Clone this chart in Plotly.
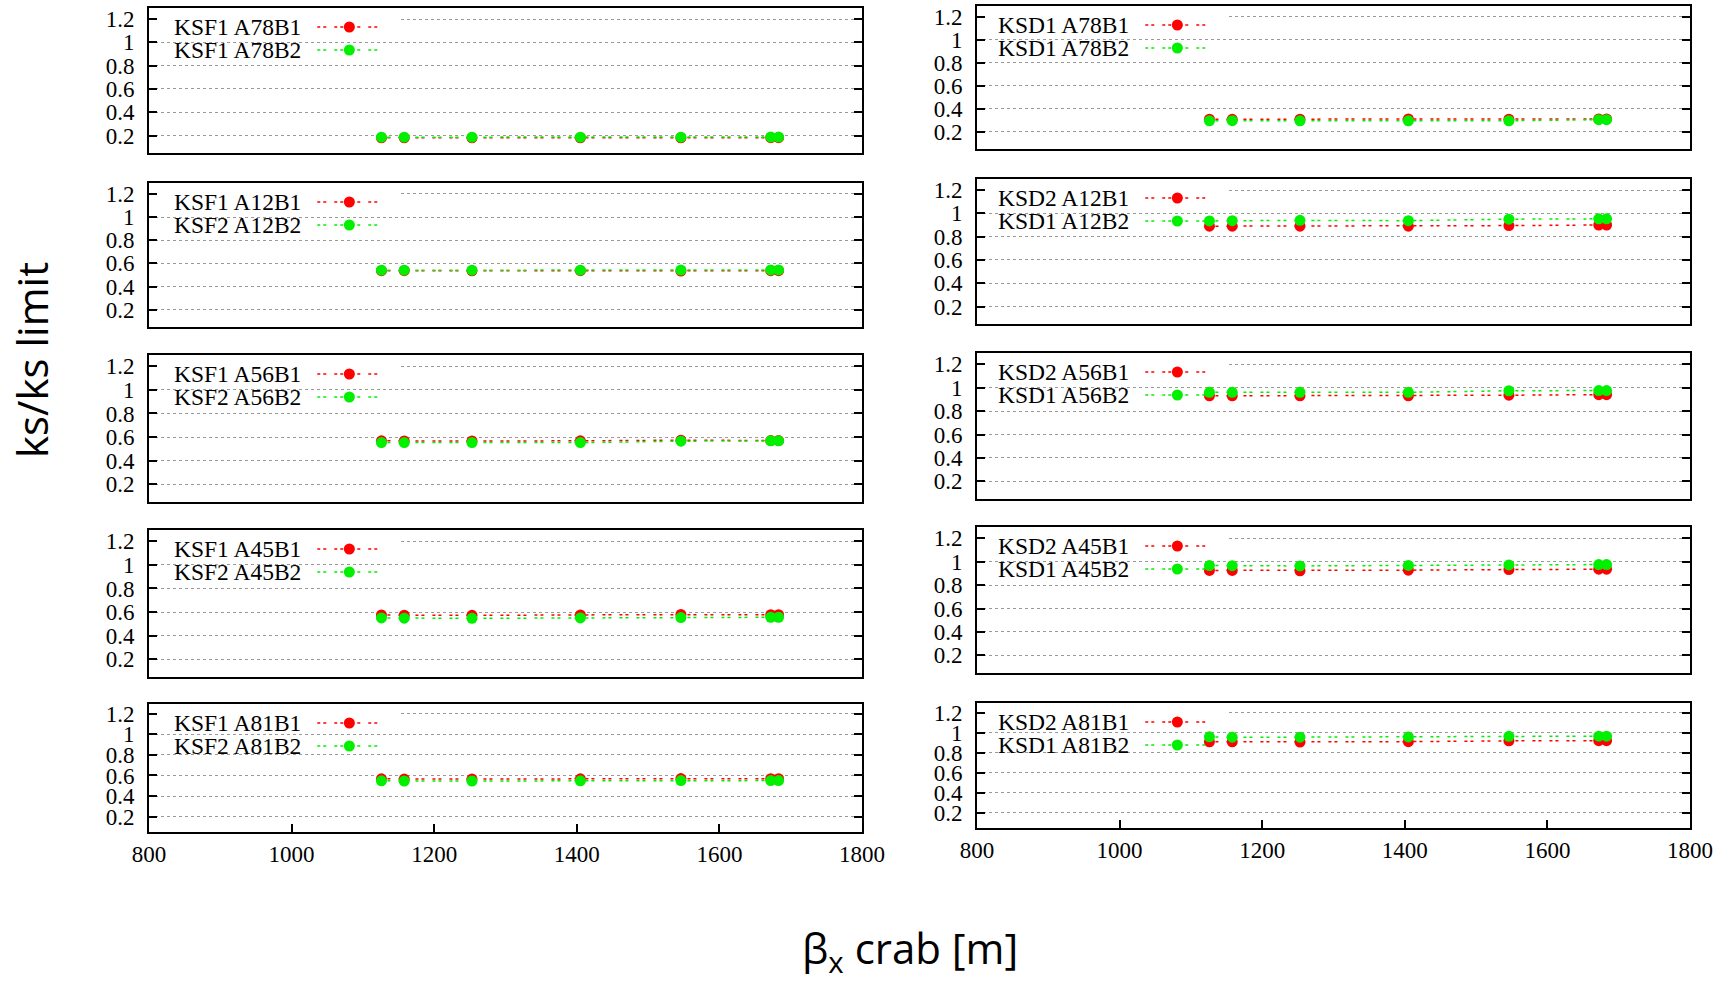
import plotly.graph_objects as go

# ---------------- data ----------------
beta_x = [1126, 1158, 1253, 1405, 1546, 1672, 1683]

labels_b1 = ["KSF1 A78B1", "KSF1 A12B1", "KSF1 A56B1", "KSF1 A45B1", "KSF1 A81B1",
             "KSD1 A78B1", "KSD2 A12B1", "KSD2 A56B1", "KSD2 A45B1", "KSD2 A81B1"]
labels_b2 = ["KSF1 A78B2", "KSF2 A12B2", "KSF2 A56B2", "KSF2 A45B2", "KSF2 A81B2",
             "KSD1 A78B2", "KSD1 A12B2", "KSD1 A56B2", "KSD1 A45B2", "KSD1 A81B2"]

ksf_a78_b1 = [0.180, 0.180, 0.180, 0.181, 0.181, 0.182, 0.182]
ksf_a78_b2 = [0.186, 0.186, 0.186, 0.186, 0.186, 0.187, 0.187]
ksf_a12_b1 = [0.537, 0.537, 0.536, 0.537, 0.534, 0.537, 0.537]
ksf_a12_b2 = [0.541, 0.541, 0.541, 0.541, 0.542, 0.543, 0.543]
ksf_a56_b1 = [0.568, 0.567, 0.567, 0.568, 0.574, 0.570, 0.570]
ksf_a56_b2 = [0.553, 0.553, 0.553, 0.553, 0.565, 0.568, 0.568]
ksf_a45_b1 = [0.575, 0.574, 0.572, 0.576, 0.580, 0.578, 0.578]
ksf_a45_b2 = [0.550, 0.548, 0.547, 0.550, 0.553, 0.556, 0.556]
ksf_a81_b1 = [0.567, 0.565, 0.565, 0.567, 0.570, 0.568, 0.568]
ksf_a81_b2 = [0.548, 0.546, 0.546, 0.548, 0.550, 0.550, 0.550]

ksd_a78_b1 = [0.310, 0.308, 0.310, 0.312, 0.310, 0.312, 0.312]
ksd_a78_b2 = [0.295, 0.297, 0.295, 0.295, 0.296, 0.305, 0.305]
ksd_a12_b1 = [0.890, 0.890, 0.890, 0.890, 0.895, 0.900, 0.900]
ksd_a12_b2 = [0.935, 0.937, 0.940, 0.937, 0.950, 0.953, 0.953]
ksd_a56_b1 = [0.930, 0.930, 0.930, 0.930, 0.935, 0.940, 0.940]
ksd_a56_b2 = [0.960, 0.960, 0.960, 0.960, 0.973, 0.975, 0.975]
ksd_a45_b1 = [0.925, 0.925, 0.922, 0.927, 0.932, 0.935, 0.935]
ksd_a45_b2 = [0.966, 0.965, 0.963, 0.967, 0.972, 0.975, 0.975]
ksd_a81_b1 = [0.908, 0.908, 0.906, 0.910, 0.918, 0.920, 0.920]
ksd_a81_b2 = [0.958, 0.955, 0.955, 0.957, 0.963, 0.965, 0.965]

series_b1 = [ksf_a78_b1, ksf_a12_b1, ksf_a56_b1, ksf_a45_b1, ksf_a81_b1,
             ksd_a78_b1, ksd_a12_b1, ksd_a56_b1, ksd_a45_b1, ksd_a81_b1]
series_b2 = [ksf_a78_b2, ksf_a12_b2, ksf_a56_b2, ksf_a45_b2, ksf_a81_b2,
             ksd_a78_b2, ksd_a12_b2, ksd_a56_b2, ksd_a45_b2, ksd_a81_b2]

y_tickvals = [0.2, 0.4, 0.6, 0.8, 1.0, 1.2]
y_ticktext = ["0.2", "0.4", "0.6", "0.8", "1", "1.2"]
x_tickvals = [800, 1000, 1200, 1400, 1600, 1800]
x_ticktext = ["800", "1000", "1200", "1400", "1600", "1800"]

# ---------------- layout geometry (pixels) ----------------
W, H = 1733, 983
X_RANGE = [800, 1800]
Y_RANGE = [0.05, 1.295]
col_x = [(149, 862), (977, 1690)]
rows_px = [
    [(8, 153), (183, 327), (355, 502), (530, 677), (704, 832)],
    [(6, 149), (179, 324), (353, 499), (527, 673), (703, 828)],
]

RED = "#ff0000"
GREEN = "#00f000"
DASH = "3px,3px,3px,8px"
SERIF = "Liberation Serif, Times New Roman, serif"
SANS = "Open Sans, sans-serif"


def xdom(f):
    return X_RANGE[0] + f * (X_RANGE[1] - X_RANGE[0])


def ydata_from_top(px, hpx):
    return Y_RANGE[1] - px / hpx * (Y_RANGE[1] - Y_RANGE[0])


fig = go.Figure()
layout = dict(
    width=W, height=H, margin=dict(l=0, r=0, t=0, b=0, pad=0, autoexpand=False),
    paper_bgcolor="white", plot_bgcolor="white", showlegend=False,
)
shapes = []
annotations = []

for i in range(10):
    col = i // 5
    row = i % 5
    n = i + 1
    xa = "xaxis" if n == 1 else f"xaxis{n}"
    ya = "yaxis" if n == 1 else f"yaxis{n}"
    xr = "x" if n == 1 else f"x{n}"
    yr = "y" if n == 1 else f"y{n}"
    x0, x1 = col_x[col]
    top, bot = rows_px[col][row]
    hpx = bot - top
    bottom_row = row == 4

    layout[xa] = dict(
        domain=[x0 / W, x1 / W], anchor=yr, range=X_RANGE, automargin=False,
        showgrid=False, zeroline=False, showline=True, linecolor="black",
        linewidth=2, mirror=True,
        tickvals=x_tickvals, ticktext=x_ticktext,
        ticks="inside" if bottom_row else "", ticklen=8, tickwidth=1.5,
        tickcolor="black", showticklabels=bottom_row,
        tickfont=dict(family=SERIF, size=23, color="black"),
    )
    layout[ya] = dict(
        domain=[1 - bot / H, 1 - top / H], anchor=xr, range=Y_RANGE, automargin=False,
        showgrid=True, gridcolor="#9a9a9a", griddash="dot", gridwidth=1,
        zeroline=False, showline=True, linecolor="black", linewidth=2,
        mirror="allticks", ticks="inside", ticklen=8, tickwidth=1.5,
        tickcolor="black", tickvals=y_tickvals, ticktext=y_ticktext,
        tickfont=dict(family=SERIF, size=23, color="black"),
        ticklabelstandoff=8,
    )

    fig.add_trace(go.Scatter(
        x=beta_x, y=series_b1[i], xaxis=xr, yaxis=yr, mode="lines+markers",
        line=dict(color=RED, width=1.5, dash=DASH),
        marker=dict(color=RED, size=11), name=labels_b1[i]))
    fig.add_trace(go.Scatter(
        x=beta_x, y=series_b2[i], xaxis=xr, yaxis=yr, mode="lines+markers",
        line=dict(color=GREEN, width=1.5, dash=DASH),
        marker=dict(color=GREEN, size=11), name=labels_b2[i]))

    # opaque key box (covers the top gridline under the key, as in the original)
    shapes.append(dict(type="rect", xref=xr, yref=yr,
                       x0=xdom(0.004), x1=xdom(0.350), y0=1.1, y1=Y_RANGE[1],
                       fillcolor="white", line=dict(width=0), layer="between"))

    # custom key entries: text on the left, sample on the right
    for lab, colr, off in [(labels_b1[i], RED, 19), (labels_b2[i], GREEN, 42)]:
        yv = ydata_from_top(off, hpx)
        annotations.append(dict(
            text=lab, xref=xr, yref=yr,
            x=xdom(0.2166), y=yv, xanchor="right", yanchor="middle", showarrow=False,
            font=dict(family=SERIF, size=23.5, color="black")))
        shapes.append(dict(type="line", xref=xr, yref=yr,
                           x0=xdom(0.236), x1=xdom(0.321), y0=yv, y1=yv,
                           line=dict(color=colr, width=1.5, dash=DASH),
                           layer="above"))
        shapes.append(dict(type="circle", xref=xr, yref=yr,
                           xsizemode="pixel", ysizemode="pixel",
                           xanchor=xdom(0.281), yanchor=yv,
                           x0=-5.5, x1=5.5, y0=-5.5, y1=5.5,
                           fillcolor=colr, line=dict(width=0), layer="above"))

annotations.append(dict(
    text="ks/ks limit", xref="paper", yref="paper", x=31 / W, y=1 - 360 / H,
    xanchor="center", yanchor="middle", textangle=-90, showarrow=False,
    font=dict(family=SANS, size=42, color="black")))
annotations.append(dict(
    text="β<sub>x</sub> crab [m]", xref="paper", yref="paper", x=910 / W, y=1 - 950 / H,
    xanchor="center", yanchor="middle", showarrow=False,
    font=dict(family=SANS, size=42, color="black")))

layout["shapes"] = shapes
layout["annotations"] = annotations
fig.update_layout(**layout)

fig.write_html("out.html", config={"displayModeBar": False},
               post_script=["document.body.style.margin='0px';"])
